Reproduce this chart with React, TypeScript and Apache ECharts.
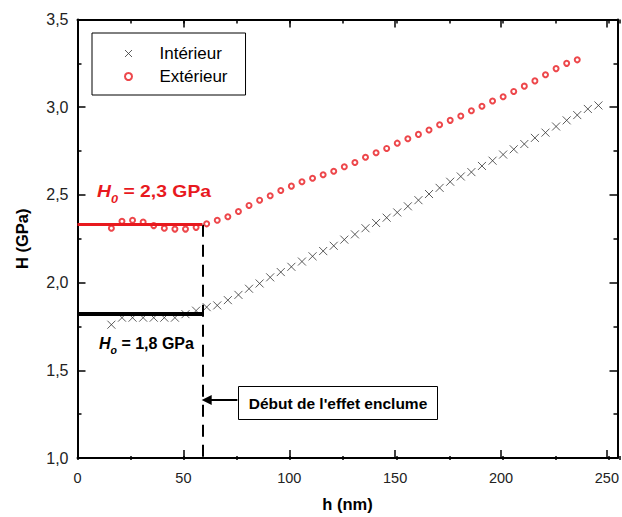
import React, { useEffect, useRef } from 'react';
import * as echarts from 'echarts';

// Depth (nm) and hardness (GPa)
const interieurDepth = [16, 21, 26, 31, 36, 41, 46, 51, 56, 61, 66, 71, 76, 81, 86, 91, 96, 101, 106, 111, 116, 121, 126, 131, 136, 141, 146, 151, 156, 161, 166, 171, 176, 181, 186, 191, 196, 201, 206, 211, 216, 221, 226, 231, 236, 241, 246];
const interieurH = [1.76, 1.80, 1.80, 1.80, 1.80, 1.80, 1.80, 1.82, 1.84, 1.86, 1.87, 1.90, 1.93, 1.965, 1.995, 2.03, 2.06, 2.09, 2.12, 2.15, 2.18, 2.21, 2.245, 2.275, 2.31, 2.34, 2.37, 2.40, 2.435, 2.47, 2.505, 2.54, 2.575, 2.605, 2.63, 2.665, 2.695, 2.73, 2.76, 2.79, 2.825, 2.855, 2.89, 2.925, 2.955, 2.99, 3.01];

const exterieurDepth = [16, 21, 26, 31, 36, 41, 46, 51, 56, 61, 66, 71, 76, 81, 86, 91, 96, 101, 106, 111, 116, 121, 126, 131, 136, 141, 146, 151, 156, 161, 166, 171, 176, 181, 186, 191, 196, 201, 206, 211, 216, 221, 226, 231, 236];
const exterieurH = [2.31, 2.35, 2.355, 2.345, 2.325, 2.31, 2.305, 2.305, 2.315, 2.335, 2.355, 2.375, 2.405, 2.44, 2.47, 2.495, 2.525, 2.55, 2.575, 2.595, 2.615, 2.635, 2.66, 2.685, 2.715, 2.74, 2.765, 2.795, 2.82, 2.845, 2.87, 2.9, 2.925, 2.95, 2.98, 3.005, 3.035, 3.06, 3.09, 3.12, 3.15, 3.185, 3.22, 3.25, 3.27];

// Reference levels / annotation anchors (data units)
const h0Exterieur = 2.33;
const h0Interieur = 1.82;
const onsetDepth = 59;
const arrowH = 1.33;
const arrowStartDepth = 75.5;

const xMin = 0;
const xMax = 255;
const yMin = 1.0;
const yMax = 3.5;

const FONT = '"Liberation Sans", Arial, Helvetica, sans-serif';
const RED = '#e8191e';
const GREY = '#333';
const CROSS = 'path://M0,0L10,10M0,10L10,0';

export default function App() {
  const ref = useRef<HTMLDivElement>(null);

  useEffect(() => {
    if (!ref.current) return;
    const chart = echarts.init(ref.current, undefined, { renderer: 'svg' });

    const grid = { left: 77.5, right: 2.5, top: 19.5, bottom: 57 };
    const axisLine = { show: true, onZero: false, lineStyle: { color: '#000', width: 2 } };
    const majorTick = { show: true, inside: true, length: 8, lineStyle: { color: '#000', width: 1.5 } };
    const minorTickX = { show: true, inside: true, length: 4, lineStyle: { color: '#000', width: 1.5 } };

    const richFor = (color: string) => ({
      H: { fontSize: 16, fontWeight: 'bold', fontStyle: 'italic', fontFamily: FONT, lineHeight: 24, verticalAlign: 'middle', fill: color },
      s: { fontSize: 10.5, fontWeight: 'bold', fontStyle: 'italic', fontFamily: FONT, lineHeight: 8, verticalAlign: 'bottom', fill: color },
      t: { fontSize: 16, fontWeight: 'bold', fontFamily: FONT, lineHeight: 24, verticalAlign: 'middle', fill: color },
    });

    const option: any = {
      animation: false,
      backgroundColor: '#fff',
      grid: [grid, grid],
      legend: {
        orient: 'vertical',
        left: 92,
        top: 33,
        padding: [12, 18, 10, 32],
        itemWidth: 52,
        itemHeight: 7,
        itemGap: 6,
        borderColor: '#000',
        borderWidth: 1,
        backgroundColor: '#fff',
        textStyle: { fontSize: 17, color: '#000', fontFamily: FONT, lineHeight: 16 },
        data: [
          { name: 'Intérieur', icon: CROSS, itemStyle: { color: GREY, borderColor: GREY, borderWidth: 1 } },
          { name: 'Extérieur', icon: 'emptyCircle', itemStyle: { color: RED, borderColor: RED, borderWidth: 1.4 } },
        ],
      },
      xAxis: [
        {
          type: 'value', gridIndex: 0, position: 'bottom', min: xMin, max: xMax, interval: 50,
          axisLine, axisTick: majorTick, splitLine: { show: false },
          axisLabel: {
            margin: 12, fontSize: 14.5, color: '#222', fontFamily: FONT,
            formatter: (v: number) => (v > 250 ? '' : String(v)),
          },
          name: 'h (nm)', nameLocation: 'middle', nameGap: 37,
          nameTextStyle: { fontWeight: 'bold', fontSize: 16.5, color: '#000', fontFamily: FONT },
        },
        {
          type: 'value', gridIndex: 0, position: 'top', min: xMin, max: xMax, interval: 50,
          axisLine, axisTick: majorTick, splitLine: { show: false }, axisLabel: { show: false },
        },
        {
          type: 'value', gridIndex: 1, position: 'bottom', min: xMin, max: xMax, interval: 25,
          axisLine: { show: false }, axisTick: minorTickX, splitLine: { show: false }, axisLabel: { show: false },
        },
        {
          type: 'value', gridIndex: 1, position: 'top', min: xMin, max: xMax, interval: 25,
          axisLine: { show: false }, axisTick: minorTickX, splitLine: { show: false }, axisLabel: { show: false },
        },
      ],
      yAxis: [
        {
          type: 'value', gridIndex: 0, position: 'left', min: yMin, max: yMax, interval: 0.5,
          axisLine, axisTick: majorTick,
          minorTick: { show: true, splitNumber: 2, length: 4, lineStyle: { color: '#000', width: 1.5 } },
          splitLine: { show: false }, minorSplitLine: { show: false },
          axisLabel: {
            margin: 9, fontSize: 16, color: '#222', fontFamily: FONT,
            formatter: (v: number) => v.toFixed(1).replace('.', ','),
          },
          name: 'H (GPa)', nameLocation: 'middle', nameGap: 47, nameRotate: 90,
          nameTextStyle: { fontWeight: 'bold', fontSize: 16.5, color: '#000', fontFamily: FONT },
        },
        {
          type: 'value', gridIndex: 0, position: 'right', min: yMin, max: yMax, interval: 0.5,
          axisLine, axisTick: majorTick,
          minorTick: { show: true, splitNumber: 2, length: 4, lineStyle: { color: '#000', width: 1.5 } },
          splitLine: { show: false }, axisLabel: { show: false },
        },
        { type: 'value', gridIndex: 1, min: yMin, max: yMax, show: false },
      ],
      series: [
        {
          name: 'Intérieur', type: 'scatter', xAxisIndex: 0, yAxisIndex: 0,
          data: interieurDepth.map((d, i) => [d, interieurH[i]]),
          symbol: CROSS, symbolSize: 8,
          itemStyle: { color: GREY, borderColor: GREY, borderWidth: 1 },
          z: 3,
          markLine: {
            silent: true, animation: false, symbol: ['none', 'none'], label: { show: false },
            emphasis: { disabled: true },
            data: [
              [
                { coord: [xMin, h0Interieur], lineStyle: { color: '#000', width: 4, type: 'solid' } },
                { coord: [onsetDepth, h0Interieur] },
              ],
              [
                { coord: [onsetDepth, h0Exterieur], lineStyle: { color: '#000', width: 2, type: [12, 8] } },
                { coord: [onsetDepth, yMin] },
              ],
              [
                { coord: [arrowStartDepth, arrowH], lineStyle: { color: '#000', width: 2, type: 'solid' } },
                { coord: [onsetDepth + 2, arrowH], symbol: 'triangle', symbolSize: [10, 10] },
              ],
            ],
          },
        },
        {
          name: 'Extérieur', type: 'scatter', xAxisIndex: 0, yAxisIndex: 0,
          data: exterieurDepth.map((d, i) => [d, exterieurH[i]]),
          symbol: 'emptyCircle', symbolSize: 5,
          itemStyle: { color: RED, borderColor: RED, borderWidth: 1.4 },
          z: 3,
          markLine: {
            silent: true, animation: false, symbol: ['none', 'none'], label: { show: false },
            emphasis: { disabled: true },
            data: [
              [
                { coord: [xMin, h0Exterieur], lineStyle: { color: RED, width: 3, type: 'solid' } },
                { coord: [onsetDepth, h0Exterieur] },
              ],
            ],
          },
        },
        { type: 'scatter', xAxisIndex: 2, yAxisIndex: 2, data: [], silent: true },
      ],
      graphic: [
        {
          type: 'text', x: 97, y: 192, z: 100, scaleX: 1.21,
          style: { text: '{H|H}{s|0}{t| = 2,3 GPa}', fill: RED, verticalAlign: 'middle', rich: richFor(RED) },
        },
        {
          type: 'text', x: 99, y: 343, z: 100,
          style: { text: '{H|H}{s|o}{t| = 1,8 GPa}', fill: '#000', verticalAlign: 'middle', rich: richFor('#000') },
        },
        {
          type: 'rect', z: 100,
          shape: { x: 238.5, y: 386.5, width: 199, height: 33 },
          style: { fill: '#fff', stroke: '#000', lineWidth: 1 },
        },
        {
          type: 'text', x: 338, y: 403, z: 101,
          style: {
            text: "Début de l'effet enclume",
            fontSize: 15.5, fontWeight: 'bold', fontFamily: FONT, fill: '#000',
            align: 'center', verticalAlign: 'middle',
          },
        },
      ],
    };

    chart.setOption(option);
    return () => chart.dispose();
  }, []);

  return (
    <div
      ref={ref}
      style={{ position: 'absolute', left: 0, top: 0, width: 622, height: 517, background: '#fff' }}
    />
  );
}
